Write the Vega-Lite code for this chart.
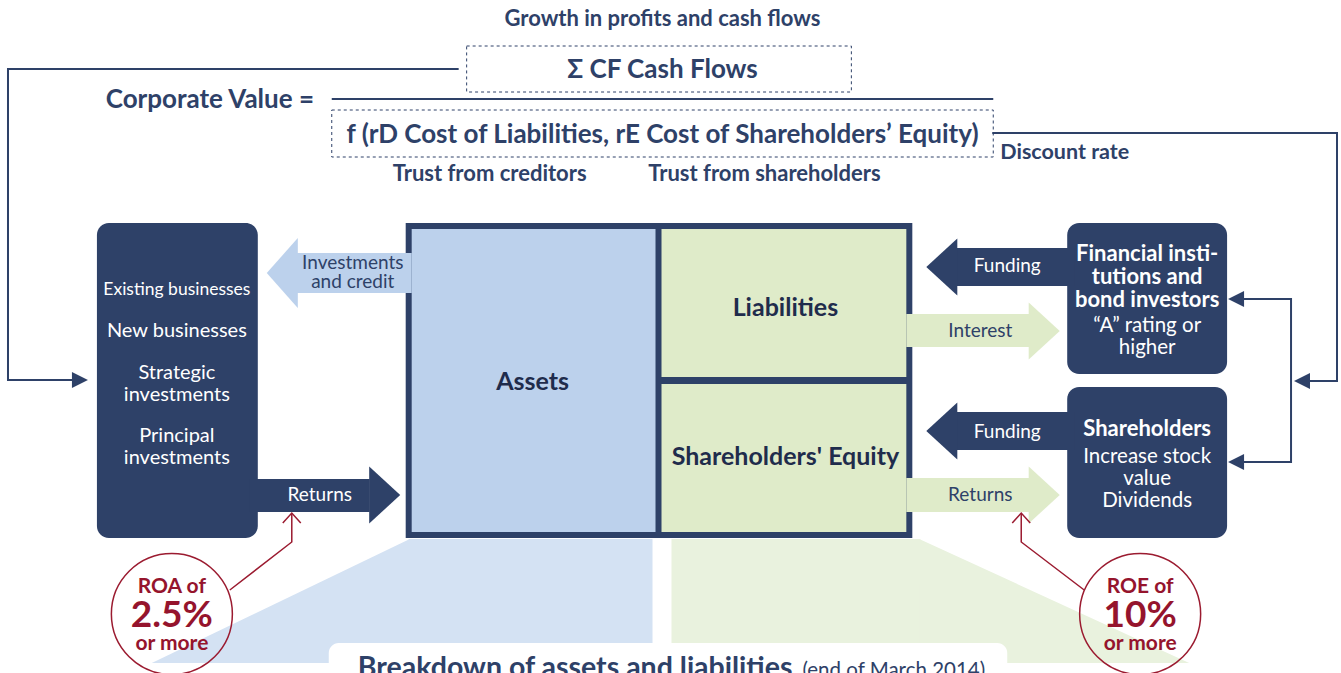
{
  "$schema": "https://vega.github.io/schema/vega-lite/v6.json",
  "width": 1341,
  "height": 673,
  "autosize": {"type": "fit", "contains": "padding"},
  "padding": 0,
  "background": "white",
  "config": {"view": {"stroke": null}, "text": {"font": "Lato"}},
  "encoding": {
    "x": {"field": "x", "type": "quantitative", "scale": {"domain": [0, 1341], "nice": false, "zero": false}, "axis": null},
    "y": {"field": "y", "type": "quantitative", "scale": {"domain": [0, 673], "nice": false, "zero": false, "reverse": true}, "axis": null}
  },
  "layer": [
    {
      "data": {"values": [
        {"kind": "bluefan", "x": 409, "x2": 653, "y": 539, "y2": 663},
        {"kind": "greenfan", "x": 672, "x2": 921, "y": 539, "y2": 663}
      ]},
      "mark": {"type": "rect"},
      "encoding": {
        "x2": {"field": "x2"}, "y2": {"field": "y2"},
        "color": {"field": "kind", "type": "nominal", "legend": null,
          "scale": {"domain": ["navy", "blue", "green", "bluefan", "greenfan"], "range": ["#2e4168", "#bcd1ec", "#dfebc9", "#d4e2f3", "#e9f2de"]}}
      }
    },
    {
      "data": {"values": [{"x": 281, "y": 601}]},
      "mark": {"type": "point", "shape": "M-1,0.4806L1,-0.4806L1,0.4806Z", "size": 66564, "filled": true, "color": "#d4e2f3", "opacity": 1, "strokeWidth": 0}
    },
    {
      "data": {"values": [{"x": 1055, "y": 601}]},
      "mark": {"type": "point", "shape": "M-1,-0.4593L1,0.4593L-1,0.4593Z", "size": 72900, "filled": true, "color": "#e9f2de", "opacity": 1, "strokeWidth": 0}
    },
    {
      "data": {"values": [{"x": 329, "x2": 1008, "y": 643, "y2": 720}]},
      "mark": {"type": "rect", "color": "#ffffff", "cornerRadius": 10, "clip": true},
      "encoding": {"x2": {"field": "x2"}, "y2": {"field": "y2"}}
    },
    {
      "data": {"values": [{"x": 358, "y": 677, "label": "Breakdown of assets and liabilities"}]},
      "mark": {"type": "text", "align": "left", "baseline": "alphabetic", "fontSize": 28.5, "fontWeight": "bold", "color": "#2e4168", "clip": true},
      "encoding": {"text": {"field": "label"}}
    },
    {
      "data": {"values": [{"x": 803, "y": 677, "label": "(end of March 2014)"}]},
      "mark": {"type": "text", "align": "left", "baseline": "alphabetic", "fontSize": 20.5, "color": "#2e4168", "clip": true},
      "encoding": {"text": {"field": "label"}}
    },
    {
      "data": {"values": [
        {"x": 97, "x2": 258, "y": 223, "y2": 538},
        {"x": 1068, "x2": 1228, "y": 223, "y2": 374},
        {"x": 1068, "x2": 1228, "y": 387, "y2": 538}
      ]},
      "mark": {"type": "rect", "color": "#2e4168", "cornerRadius": 12},
      "encoding": {"x2": {"field": "x2"}, "y2": {"field": "y2"}}
    },
    {
      "data": {"values": [
        {"kind": "navy", "x": 406, "x2": 913, "y": 223, "y2": 538},
        {"kind": "blue", "x": 412, "x2": 656, "y": 229, "y2": 532},
        {"kind": "green", "x": 662, "x2": 907, "y": 229, "y2": 377},
        {"kind": "green", "x": 662, "x2": 907, "y": 384, "y2": 532},
        {"kind": "blue", "x": 297, "x2": 412, "y": 253, "y2": 293},
        {"kind": "navy", "x": 250, "x2": 370, "y": 479, "y2": 512},
        {"kind": "navy", "x": 957, "x2": 1075, "y": 248, "y2": 286},
        {"kind": "navy", "x": 957, "x2": 1075, "y": 412, "y2": 450},
        {"kind": "green", "x": 907, "x2": 1030, "y": 314, "y2": 347},
        {"kind": "green", "x": 907, "x2": 1030, "y": 478, "y2": 512}
      ]},
      "mark": {"type": "rect"},
      "encoding": {
        "x2": {"field": "x2"}, "y2": {"field": "y2"},
        "color": {"field": "kind", "type": "nominal", "legend": null,
          "scale": {"domain": ["navy", "blue", "green", "bluefan", "greenfan"], "range": ["#2e4168", "#bcd1ec", "#dfebc9", "#d4e2f3", "#e9f2de"]}}
      }
    },
    {
      "data": {"values": [{"x": 282.5, "y": 273}]},
      "mark": {"type": "point", "shape": "M-0.443,0L0.443,-1L0.443,1Z", "size": 4900, "filled": true, "color": "#bcd1ec", "opacity": 1, "strokeWidth": 0}
    },
    {
      "data": {"values": [{"x": 942.5, "y": 267}, {"x": 942.5, "y": 431}]},
      "mark": {"type": "point", "shape": "M-0.544,0L0.544,-1L0.544,1Z", "size": 3249, "filled": true, "color": "#2e4168", "opacity": 1, "strokeWidth": 0}
    },
    {
      "data": {"values": [{"x": 385, "y": 495}]},
      "mark": {"type": "point", "shape": "M0.544,0L-0.544,-1L-0.544,1Z", "size": 3249, "filled": true, "color": "#2e4168", "opacity": 1, "strokeWidth": 0}
    },
    {
      "data": {"values": [{"x": 1045, "y": 331}, {"x": 1045, "y": 495}]},
      "mark": {"type": "point", "shape": "M0.544,0L-0.544,-1L-0.544,1Z", "size": 3249, "filled": true, "color": "#dfebc9", "opacity": 1, "strokeWidth": 0}
    },
    {
      "data": {"values": [{"x": 80, "y": 380}]},
      "mark": {"type": "point", "shape": "M1,0L-1,-1L-1,1Z", "size": 256, "filled": true, "color": "#2e4168", "opacity": 1, "strokeWidth": 0}
    },
    {
      "data": {"values": [{"x": 1303, "y": 381}, {"x": 1237, "y": 299}, {"x": 1237, "y": 462}]},
      "mark": {"type": "point", "shape": "M-1,0L1,-1L1,1Z", "size": 256, "filled": true, "color": "#2e4168", "opacity": 1, "strokeWidth": 0}
    },
    {
      "data": {"values": [
        {"id": "L", "i": 1, "x": 458, "y": 69}, {"id": "L", "i": 2, "x": 8, "y": 69}, {"id": "L", "i": 3, "x": 8, "y": 380}, {"id": "L", "i": 4, "x": 74, "y": 380},
        {"id": "R", "i": 1, "x": 994, "y": 133}, {"id": "R", "i": 2, "x": 1338, "y": 133}, {"id": "R", "i": 3, "x": 1338, "y": 381}, {"id": "R", "i": 4, "x": 1308, "y": 381},
        {"id": "B", "i": 1, "x": 1240, "y": 299}, {"id": "B", "i": 2, "x": 1292, "y": 299}, {"id": "B", "i": 3, "x": 1292, "y": 462}, {"id": "B", "i": 4, "x": 1240, "y": 462},
        {"id": "F", "i": 1, "x": 333, "y": 99}, {"id": "F", "i": 2, "x": 993, "y": 99}
      ]},
      "mark": {"type": "line", "color": "#2e4168", "strokeWidth": 2, "strokeCap": "square"},
      "encoding": {"detail": {"field": "id", "type": "nominal"}, "order": {"field": "i", "type": "quantitative"}}
    },
    {
      "data": {"values": [
        {"id": "A", "i": 1, "x": 230, "y": 590}, {"id": "A", "i": 2, "x": 292, "y": 542}, {"id": "A", "i": 3, "x": 292, "y": 514},
        {"id": "Ah", "i": 1, "x": 283, "y": 523}, {"id": "Ah", "i": 2, "x": 292, "y": 513}, {"id": "Ah", "i": 3, "x": 301, "y": 523},
        {"id": "E", "i": 1, "x": 1085, "y": 590}, {"id": "E", "i": 2, "x": 1022, "y": 542}, {"id": "E", "i": 3, "x": 1022, "y": 514},
        {"id": "Eh", "i": 1, "x": 1013, "y": 523}, {"id": "Eh", "i": 2, "x": 1022, "y": 513}, {"id": "Eh", "i": 3, "x": 1031, "y": 523}
      ]},
      "mark": {"type": "line", "color": "#9b1b30", "strokeWidth": 1.5},
      "encoding": {"detail": {"field": "id", "type": "nominal"}, "order": {"field": "i", "type": "quantitative"}}
    },
    {
      "data": {"values": [
        {"x": 467, "x2": 852, "y": 46, "y2": 92},
        {"x": 332, "x2": 994, "y": 110, "y2": 157}
      ]},
      "mark": {"type": "rect", "filled": false, "color": "#2e4168", "strokeWidth": 1, "strokeDash": [3, 3]},
      "encoding": {"x2": {"field": "x2"}, "y2": {"field": "y2"}}
    },
    {
      "data": {"values": [{"x": 172, "y": 614}, {"x": 1141, "y": 614}]},
      "mark": {"type": "point", "shape": "circle", "size": 14641, "filled": false, "color": "#9b1b30", "strokeWidth": 1.5, "opacity": 1, "clip": true}
    },
    {
      "data": {"values": [
        {"x": 663, "y": 19, "label": "Growth in profits and cash flows"},
        {"x": 490, "y": 174, "label": "Trust from creditors"},
        {"x": 765, "y": 174, "label": "Trust from shareholders"}
      ]},
      "mark": {"type": "text", "align": "center", "baseline": "middle", "fontSize": 22, "fontWeight": "bold", "color": "#2e4168"},
      "encoding": {"text": {"field": "label"}}
    },
    {
      "data": {"values": [{"x": 1001, "y": 153, "label": "Discount rate"}]},
      "mark": {"type": "text", "align": "left", "baseline": "middle", "fontSize": 21.5, "fontWeight": "bold", "color": "#2e4168"},
      "encoding": {"text": {"field": "label"}}
    },
    {
      "data": {"values": [
        {"x": 663, "y": 70, "label": "Σ CF Cash Flows"},
        {"x": 663, "y": 135, "label": "f (rD Cost of Liabilities, rE Cost of Shareholders’ Equity)"},
        {"x": 210, "y": 100, "label": "Corporate Value ="}
      ]},
      "mark": {"type": "text", "align": "center", "baseline": "middle", "fontSize": 26, "fontWeight": "bold", "color": "#2e4168"},
      "encoding": {"text": {"field": "label"}}
    },
    {
      "data": {"values": [
        {"x": 533, "y": 382, "label": "Assets"},
        {"x": 786, "y": 308, "label": "Liabilities"},
        {"x": 786, "y": 457, "label": "Shareholders' Equity"}
      ]},
      "mark": {"type": "text", "align": "center", "baseline": "middle", "fontSize": 25, "fontWeight": "bold", "color": "#1f2c4c"},
      "encoding": {"text": {"field": "label"}}
    },
    {
      "data": {"values": [{"x": 177, "y": 290, "label": "Existing businesses"}]},
      "mark": {"type": "text", "align": "center", "baseline": "middle", "fontSize": 17.5, "color": "#ffffff"},
      "encoding": {"text": {"field": "label"}}
    },
    {
      "data": {"values": [
        {"x": 177, "y": 331, "label": "New businesses"},
        {"x": 177, "y": 373, "label": "Strategic"},
        {"x": 177, "y": 395, "label": "investments"},
        {"x": 177, "y": 436, "label": "Principal"},
        {"x": 177, "y": 458, "label": "investments"}
      ]},
      "mark": {"type": "text", "align": "center", "baseline": "middle", "fontSize": 20, "color": "#ffffff"},
      "encoding": {"text": {"field": "label"}}
    },
    {
      "data": {"values": [
        {"x": 1148, "y": 254, "label": "Financial insti-"},
        {"x": 1148, "y": 277, "label": "tutions and"},
        {"x": 1148, "y": 300, "label": "bond investors"},
        {"x": 1148, "y": 429, "label": "Shareholders"}
      ]},
      "mark": {"type": "text", "align": "center", "baseline": "middle", "fontSize": 22, "fontWeight": "bold", "color": "#ffffff"},
      "encoding": {"text": {"field": "label"}}
    },
    {
      "data": {"values": [
        {"x": 1148, "y": 326, "label": "“A” rating or"},
        {"x": 1148, "y": 348, "label": "higher"},
        {"x": 1148, "y": 457, "label": "Increase stock"},
        {"x": 1148, "y": 479, "label": "value"},
        {"x": 1148, "y": 501, "label": "Dividends"}
      ]},
      "mark": {"type": "text", "align": "center", "baseline": "middle", "fontSize": 20.5, "color": "#ffffff"},
      "encoding": {"text": {"field": "label"}}
    },
    {
      "data": {"values": [
        {"x": 1008, "y": 266, "label": "Funding"},
        {"x": 1008, "y": 432, "label": "Funding"},
        {"x": 320, "y": 495, "label": "Returns"}
      ]},
      "mark": {"type": "text", "align": "center", "baseline": "middle", "fontSize": 19, "color": "#ffffff"},
      "encoding": {"text": {"field": "label"}}
    },
    {
      "data": {"values": [
        {"x": 353, "y": 263, "label": "Investments"},
        {"x": 353, "y": 282, "label": "and credit"},
        {"x": 981, "y": 331, "label": "Interest"},
        {"x": 981, "y": 495, "label": "Returns"}
      ]},
      "mark": {"type": "text", "align": "center", "baseline": "middle", "fontSize": 19, "color": "#2e4168"},
      "encoding": {"text": {"field": "label"}}
    },
    {
      "data": {"values": [
        {"x": 172, "y": 587, "label": "ROA of"},
        {"x": 172, "y": 644, "label": "or more"},
        {"x": 1141, "y": 587, "label": "ROE of"},
        {"x": 1141, "y": 644, "label": "or more"}
      ]},
      "mark": {"type": "text", "align": "center", "baseline": "middle", "fontSize": 21, "fontWeight": "bold", "color": "#95142d"},
      "encoding": {"text": {"field": "label"}}
    },
    {
      "data": {"values": [
        {"x": 172, "y": 616, "label": "2.5%"},
        {"x": 1141, "y": 616, "label": "10%"}
      ]},
      "mark": {"type": "text", "align": "center", "baseline": "middle", "fontSize": 37, "fontWeight": "bold", "color": "#95142d"},
      "encoding": {"text": {"field": "label"}}
    }
  ]
}
